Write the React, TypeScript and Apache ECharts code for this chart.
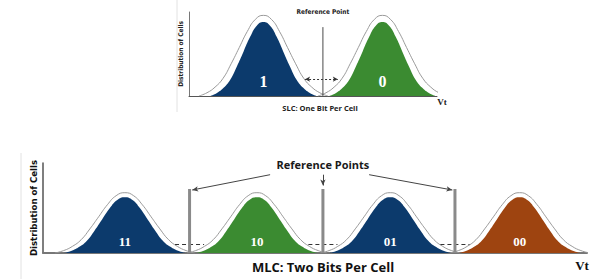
import React, { useEffect, useRef } from "react";
import * as echarts from "echarts";

// Shared bell profile (fraction of peak, from -1 to +1 half-width in 1/8 steps)
const bellProfile = [0, 0.04, 0.11, 0.22, 0.4, 0.6, 0.8, 0.95, 1, 0.95, 0.8, 0.6, 0.4, 0.22, 0.11, 0.04, 0];

// SLC (top)
const slcLabels = ["1", "0"];
const slcCenters = [3.0, 7.8];
const slcColors = ["#0c3a6c", "#3b8b31"];
const slcRefs = [5.4];
const slcFillPeak = 88;
const slcOutlinePeak = 96;
const slcFillHalf = 2.14;
const slcOutlineHalf = 2.6;
const slcRefTop = 82;
const slcArrow = [4.68, 6.0, 20];

// MLC (bottom)
const mlcLabels = ["11", "10", "01", "00"];
const mlcCenters = [6.2, 16.2, 26.3, 36.1];
const mlcColors = ["#0c3a6c", "#3b8b31", "#0c3a6c", "#9e4410"];
const mlcRefs = [11.1, 21.2, 31.2];
const mlcFillPeak = 62;
const mlcOutlinePeak = 67;
const mlcFillHalf = 4.6;
const mlcOutlineHalf = 5.3;
const mlcRefTop = 71;
const mlcDashHalf = 1.1;
const mlcDashY = 10;
// pointer lines from the "Reference Points" text: [fromX, fromY, toX, toY]
const mlcPointers = [
  [17.2, 87, 11.3, 70],
  [21.2, 87, 21.2, 75],
  [24.7, 87, 31.0, 70],
];

const sansCondensed = "'DejaVu Sans Condensed', 'Liberation Sans Narrow', Roboto, sans-serif";

const bell = (center: number, half: number, peak: number) =>
  bellProfile.map((f, i) => [center + (i / 8 - 1) * half, f * peak]);

export default function App() {
  const ref = useRef<HTMLDivElement>(null);
  useEffect(() => {
    if (!ref.current) return;
    const chart = echarts.init(ref.current, undefined, { renderer: "svg" });
    const series: any[] = [];

    const addBells = (
      gi: number,
      labels: string[],
      centers: number[],
      colors: string[],
      fh: number,
      fp: number,
      oh: number,
      op: number,
      labelY: number,
      labelSize: number
    ) => {
      centers.forEach((c, i) => {
        series.push({
          type: "line",
          xAxisIndex: gi,
          yAxisIndex: gi,
          data: bell(c, oh, op),
          smooth: 0.5,
          symbol: "none",
          lineStyle: { color: "#9a9a9a", width: 1 },
          z: 2,
          silent: true,
        });
        series.push({
          type: "line",
          xAxisIndex: gi,
          yAxisIndex: gi,
          data: bell(c, fh, fp),
          smooth: 0.5,
          symbol: "none",
          lineStyle: { width: 0 },
          areaStyle: { color: colors[i], opacity: 1 },
          z: 3,
          silent: true,
          markPoint: {
            symbol: "circle",
            symbolSize: 0,
            silent: true,
            data: [
              {
                coord: [c, labelY],
                label: {
                  show: true,
                  formatter: labels[i],
                  color: "#ffffff",
                  fontFamily: "Liberation Serif",
                  fontWeight: "bold",
                  fontSize: labelSize,
                  position: "inside",
                },
              },
            ],
          },
        });
      });
    };

    addBells(0, slcLabels, slcCenters, slcColors, slcFillHalf, slcFillPeak, slcOutlineHalf, slcOutlinePeak, 17, 16);
    addBells(1, mlcLabels, mlcCenters, mlcColors, mlcFillHalf, mlcFillPeak, mlcOutlineHalf, mlcOutlinePeak, 13, 13);

    // SLC reference line
    slcRefs.forEach((r) => {
      series.push({
        type: "line",
        xAxisIndex: 0,
        yAxisIndex: 0,
        data: [
          [r, 0],
          [r, slcRefTop],
        ],
        symbol: "none",
        lineStyle: { color: "#4a4a4a", width: 1 },
        z: 5,
        silent: true,
        markLine: {
          silent: true,
          symbol: ["arrow", "arrow"],
          symbolSize: [4, 5],
          label: { show: false },
          lineStyle: { color: "#333", width: 1, type: [2, 2] },
          data: [
            [
              { coord: [slcArrow[0], slcArrow[2]] },
              { coord: [slcArrow[1], slcArrow[2]] },
            ],
          ],
        },
        markPoint: {
          symbol: "circle",
          symbolSize: 0,
          data: [
            {
              coord: [r, 100],
              label: {
                show: true,
                formatter: "Reference Point",
                position: "inside",
                color: "#222",
                fontFamily: sansCondensed,
                fontWeight: "bold",
                fontSize: 6.5,
              },
            },
          ],
        },
      });
    });

    // MLC reference lines
    mlcRefs.forEach((r) => {
      series.push({
        type: "line",
        xAxisIndex: 1,
        yAxisIndex: 1,
        data: [
          [r, 0],
          [r, mlcRefTop],
        ],
        symbol: "none",
        lineStyle: { color: "#8a8a8a", width: 3 },
        z: 5,
        silent: true,
        markLine: {
          silent: true,
          symbol: ["none", "none"],
          label: { show: false },
          lineStyle: { color: "#333", width: 1, type: [4, 3] },
          data: [
            [
              { coord: [r - mlcDashHalf, mlcDashY] },
              { coord: [r + mlcDashHalf, mlcDashY] },
            ],
          ],
        },
      });
    });

    // Reference Points annotation
    series.push({
      type: "line",
      xAxisIndex: 1,
      yAxisIndex: 1,
      data: [],
      silent: true,
      markLine: {
        silent: true,
        symbol: ["none", "arrow"],
        symbolSize: [4, 6],
        label: { show: false },
        lineStyle: { color: "#444", width: 1, type: "solid" },
        data: mlcPointers.map((p) => [{ coord: [p[0], p[1]] }, { coord: [p[2], p[3]] }]),
      },
      markPoint: {
        symbol: "circle",
        symbolSize: 0,
        data: [
          {
            coord: [mlcRefs[1], 98],
            label: {
              show: true,
              formatter: "Reference Points",
              position: "inside",
              color: "#1a1a1a",
              fontFamily: "Open Sans",
              fontWeight: "bold",
              fontSize: 11,
            },
          },
        ],
      },
    });

    const axisCommon = {
      type: "value" as const,
      splitLine: { show: false },
      axisTick: { show: false },
      axisLabel: { show: false },
    };

    chart.setOption({
      animation: false,
      backgroundColor: "#ffffff",
      grid: [
        { left: 189, top: 12, width: 248, height: 84 },
        { left: 43, top: 163, width: 544, height: 90 },
      ],
      xAxis: [
        { ...axisCommon, gridIndex: 0, min: 0, max: 10, axisLine: { show: true, lineStyle: { color: "#555", width: 1 } } },
        { ...axisCommon, gridIndex: 1, min: 0, max: 41.2, axisLine: { show: true, lineStyle: { color: "#777", width: 2 } } },
      ],
      yAxis: [
        {
          ...axisCommon,
          gridIndex: 0,
          min: 0,
          max: 100,
          axisLine: { show: true, lineStyle: { color: "#777", width: 1 } },
          name: "Distribution of Cells",
          nameLocation: "middle",
          nameRotate: 90,
          nameGap: 5,
          nameTextStyle: { fontSize: 6.5, fontWeight: "bold", color: "#222", fontFamily: sansCondensed },
        },
        {
          ...axisCommon,
          gridIndex: 1,
          min: 0,
          max: 100,
          axisLine: { show: true, lineStyle: { color: "#555", width: 1.5 } },
          name: "Distribution of Cells",
          nameLocation: "middle",
          nameRotate: 90,
          nameGap: 5,
          nameTextStyle: { fontSize: 9.5, fontWeight: "bold", color: "#111", fontFamily: sansCondensed },
        },
      ],
      graphic: [
        { type: "line", shape: { x1: 177, y1: 0, x2: 177, y2: 112 }, style: { stroke: "#e2e2e2", lineWidth: 1 } },
        { type: "line", shape: { x1: 21, y1: 153, x2: 21, y2: 279 }, style: { stroke: "#e2e2e2", lineWidth: 1 } },
        {
          type: "text",
          x: 320,
          y: 108,
          style: { text: "SLC: One Bit Per Cell", fontSize: 7.5, fontWeight: "bold", fontFamily: "Open Sans", fill: "#222", align: "center", verticalAlign: "middle" },
        },
        {
          type: "text",
          x: 323,
          y: 267,
          style: { text: "MLC: Two Bits Per Cell", fontSize: 13, fontWeight: "bold", fontFamily: "Open Sans", fill: "#111", align: "center", verticalAlign: "middle" },
        },
        {
          type: "text",
          x: 442,
          y: 102,
          style: { text: "Vt", fontSize: 9, fontWeight: "bold", fontFamily: "Liberation Serif", fill: "#222", align: "center", verticalAlign: "middle" },
        },
        {
          type: "text",
          x: 582,
          y: 265,
          style: { text: "Vt", fontSize: 13, fontWeight: "bold", fontFamily: "Liberation Serif", fill: "#111", align: "center", verticalAlign: "middle" },
        },
      ],
      series,
    });
    return () => chart.dispose();
  }, []);
  return <div ref={ref} style={{ position: "fixed", left: 0, top: 0, width: 591, height: 279 }} />;
}
